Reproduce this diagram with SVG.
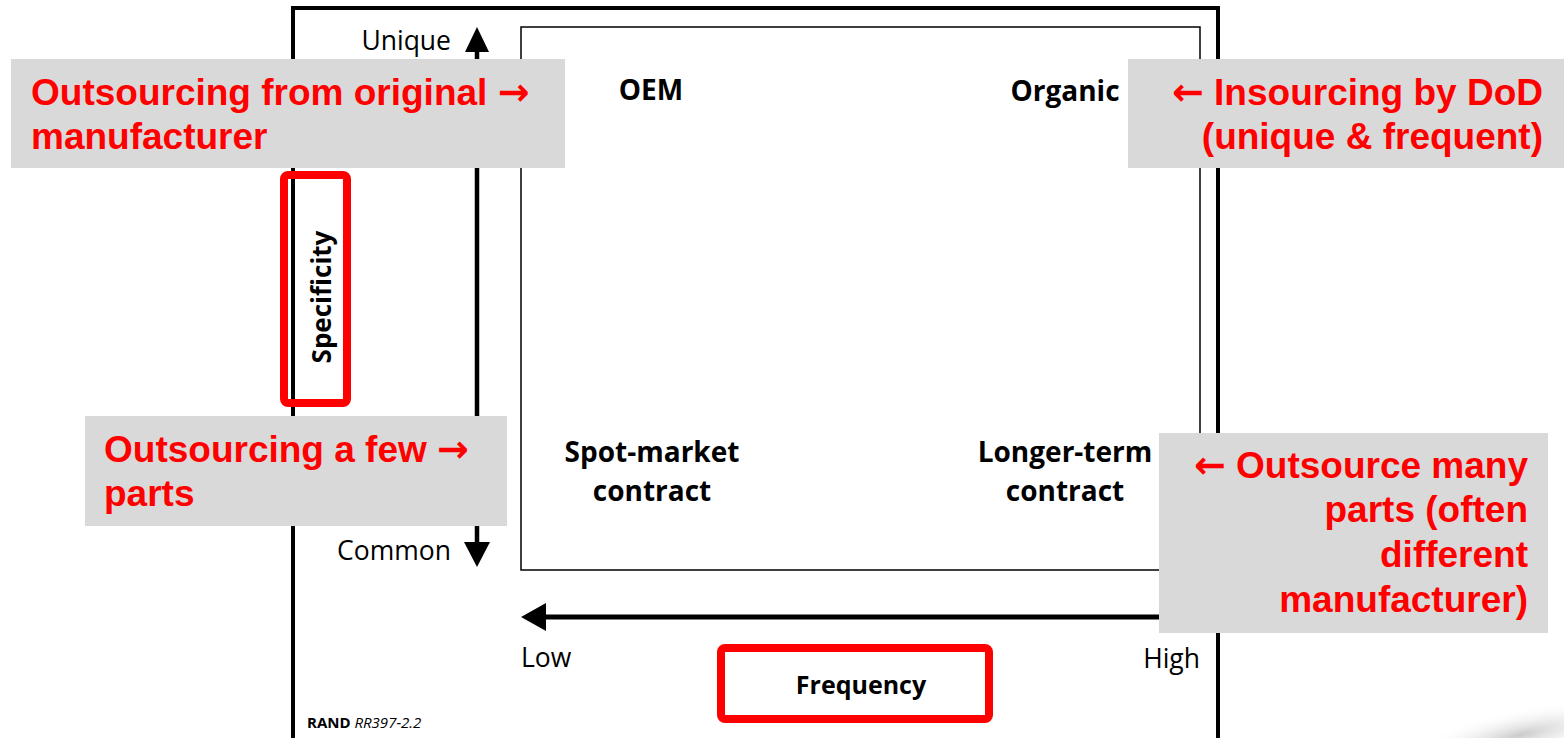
<svg xmlns="http://www.w3.org/2000/svg" width="1564" height="738" viewBox="0 0 1564 738">
<defs>
<style>
.ax{font-family:"Open Sans","Noto Sans",sans-serif;font-size:26.5px;fill:#000}
.cell{font-family:"Open Sans","Noto Sans",sans-serif;font-size:28px;font-weight:bold;fill:#000}
.note{font-family:"Liberation Sans",Arial,sans-serif;font-size:37px;font-weight:bold;fill:#ff0000}
.arr{font-family:"DejaVu Sans",sans-serif;font-weight:bold;font-size:38px}
.gbox{fill:#d9d9d9}
.hl{fill:none;stroke:#ff0000;stroke-width:8}
</style>
<radialGradient id="smudge" cx="0.5" cy="0.5" r="0.5">
<stop offset="0" stop-color="#bdbdbd" stop-opacity="0.8"/>
<stop offset="1" stop-color="#ffffff" stop-opacity="0"/>
</radialGradient>
</defs>
<rect width="1564" height="738" fill="#fff"/>
<ellipse cx="1520" cy="735" rx="120" ry="26" fill="url(#smudge)" transform="rotate(-12 1520 735)"/>

<g id="frame">
<rect x="293" y="8" width="925" height="740" fill="none" stroke="#000" stroke-width="4"/>
<rect x="521" y="27" width="679" height="543" fill="none" stroke="#000" stroke-width="1.5"/>
</g>

<g id="connectors">
<line x1="477" y1="48" x2="477" y2="546" stroke="#000" stroke-width="4.5"/>
<polygon points="477,27 465,52 489,52" fill="#000"/>
<polygon points="477,567 464,542 490,542" fill="#000"/>
<line x1="540" y1="617" x2="1165" y2="617" stroke="#000" stroke-width="5"/>
<polygon points="521,617 546,603 546,631" fill="#000"/>
</g>

<g id="axis-labels">
<text class="ax" x="451" y="50" text-anchor="end">Unique</text>
<text class="ax" x="451" y="560" text-anchor="end">Common</text>
<text class="ax" x="521" y="667">Low</text>
<text class="ax" x="1200" y="668" text-anchor="end">High</text>
<text x="307" y="728" style="font-family:'Open Sans','Noto Sans',sans-serif;font-size:15px;font-weight:bold;fill:#000">RAND <tspan font-style="italic" font-weight="normal">RR397-2.2</tspan></text>
</g>

<g id="node-oem"><text class="cell" x="651" y="100" text-anchor="middle">OEM</text></g>
<g id="node-organic"><text class="cell" x="1065" y="101" text-anchor="middle">Organic</text></g>
<g id="node-spot"><text class="cell" x="652" y="462" text-anchor="middle">Spot-market</text><text class="cell" x="652" y="501" text-anchor="middle">contract</text></g>
<g id="node-longer"><text class="cell" x="1065" y="462" text-anchor="middle">Longer-term</text><text class="cell" x="1065" y="501" text-anchor="middle">contract</text></g>

<g id="specificity">
<rect class="hl" x="284" y="175" width="63" height="228" rx="4"/>
<text class="cell" transform="translate(331,297) rotate(-90)" text-anchor="middle" style="font-size:26px">Specificity</text>
</g>
<g id="frequency">
<rect class="hl" x="721" y="648" width="268" height="71" rx="4"/>
<text class="cell" x="861" y="694" text-anchor="middle" style="font-size:25px">Frequency</text>
</g>

<g id="note-oem">
<rect class="gbox" x="11" y="59" width="554" height="109"/>
<text class="note" x="31" y="105">Outsourcing from original <tspan class="arr">→</tspan></text>
<text class="note" x="31" y="149">manufacturer</text>
</g>
<g id="note-insourcing">
<rect class="gbox" x="1128" y="59" width="436" height="109"/>
<text class="note" x="1543" y="105" text-anchor="end"><tspan class="arr">←</tspan> Insourcing by DoD</text>
<text class="note" x="1543" y="149" text-anchor="end">(unique &amp; frequent)</text>
</g>
<g id="note-few">
<rect class="gbox" x="85" y="416" width="422" height="110"/>
<text class="note" x="104" y="462">Outsourcing a few <tspan class="arr">→</tspan></text>
<text class="note" x="104" y="506">parts</text>
</g>
<g id="note-many">
<rect class="gbox" x="1159" y="433" width="389" height="200"/>
<text class="note" x="1528" y="478" text-anchor="end"><tspan class="arr">←</tspan> Outsource many</text>
<text class="note" x="1528" y="522" text-anchor="end">parts (often</text>
<text class="note" x="1528" y="567" text-anchor="end">different</text>
<text class="note" x="1528" y="612" text-anchor="end">manufacturer)</text>
</g>
</svg>
